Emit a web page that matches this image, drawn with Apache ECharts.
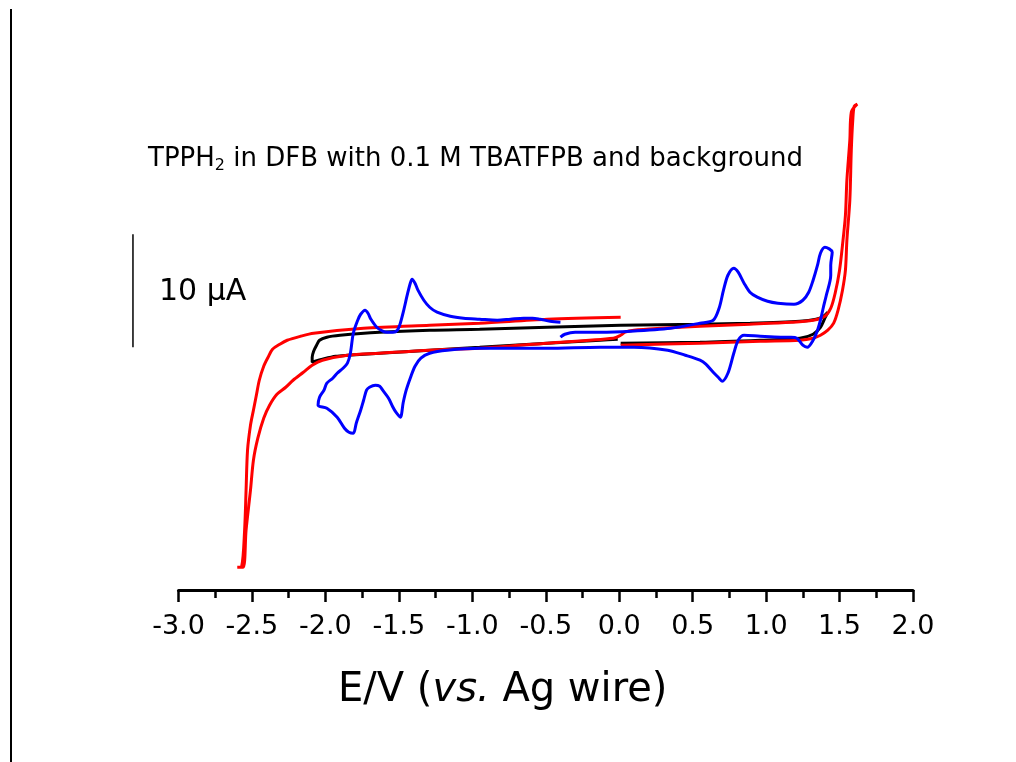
<!DOCTYPE html>
<html><head><meta charset="utf-8">
<script src="https://cdn.jsdelivr.net/npm/echarts@6/dist/echarts.min.js"></script>
<style>html,body{margin:0;padding:0;background:#fff}#c{width:1016px;height:762px}</style>
</head><body><div id="c"></div>
<script>
// ---- axis ticks ----
const xTicks = [-3.0, -2.5, -2.0, -1.5, -1.0, -0.5, 0.0, 0.5, 1.0, 1.5, 2.0];
const xTickLabels = ['-3.0', '-2.5', '-2.0', '-1.5', '-1.0', '-0.5', '0.0', '0.5', '1.0', '1.5', '2.0'];
const xAxisTitle = 'E/V ({it|vs.} Ag wire)';
const annotation = 'TPPH{s|2} in DFB with 0.1 M TBATFPB and background';
const scaleLabel = '10 \u03bcA';

// ---- background (black): E / V, I / uA ----
const blackE = [0.01, 0.55, 0.96, 1.23, 1.32, 1.37, 1.40, 1.42, 1.39, 1.34, 1.23, 0.89, 0.55, 0.01, -0.49, -0.95, -1.29, -1.63, -1.90, -1.99, -2.04, -2.06, -2.08, -2.09, -2.09, -2.07, -2.02, -1.93, -1.85, -1.63, -1.29, -0.95, -0.49, -0.13, -0.01];
const blackI = [0.04, 0.12, 0.30, 0.48, 0.83, 1.45, 2.25, 2.78, 2.42, 2.16, 1.98, 1.81, 1.72, 1.63, 1.45, 1.27, 1.19, 1.01, 0.74, 0.57, 0.30, -0.14, -0.67, -1.20, -1.65, -1.56, -1.38, -1.12, -1.03, -0.85, -0.58, -0.32, 0.04, 0.30, 0.39];

// ---- background wide window (red) ----
const redE = [0.01, 0.55, 0.96, 1.23, 1.32, 1.37, 1.42, 1.46, 1.49, 1.52, 1.54, 1.55, 1.57, 1.58, 1.59, 1.60, 1.62,
  1.58, 1.57, 1.55, 1.54, 1.52, 1.50, 1.47, 1.44, 1.40, 1.32, 1.17, 0.89, 0.55, 0.28, 0.10, 0.04, 0.01, -0.04,
  -0.49, -0.95, -1.29, -1.63, -1.85, -2.02, -2.09, -2.15, -2.22, -2.27, -2.33, -2.38, -2.42, -2.46, -2.49, -2.51, -2.54, -2.56, -2.60,
  -2.57, -2.55, -2.54, -2.53, -2.51, -2.49, -2.47, -2.45, -2.42, -2.39, -2.36, -2.31, -2.26, -2.17, -2.08, -1.74, -1.29, -0.95, -0.49, 0.01];
const redI = [-0.14, 0.04, 0.21, 0.30, 0.48, 0.74, 1.19, 1.81, 2.96, 4.73, 6.50, 9.15, 12.69, 17.12, 19.77, 21.01, 21.19,
  20.48, 18.00, 14.46, 11.36, 8.71, 6.50, 4.46, 3.13, 2.42, 2.07, 1.89, 1.72, 1.54, 1.36, 1.19, 1.01, 0.74, 0.48,
  0.04, -0.41, -0.58, -0.85, -1.03, -1.47, -1.91, -2.53, -3.24, -3.86, -4.48, -5.45, -6.60, -8.37, -10.32, -12.97, -16.51, -19.79, -19.79,
  -19.70, -16.51, -12.97, -9.43, -7.22, -5.89, -4.57, -3.24, -2.00, -1.20, -0.50, -0.05, 0.30, 0.65, 0.92, 1.36, 1.63, 1.81, 2.16, 2.34];

// ---- TPPH2 (blue) ----
const blueE = [-0.40, -0.37, -0.30, -0.13, 0.08, 0.35, 0.55, 0.64, 0.68, 0.71, 0.74, 0.78, 0.81, 0.85, 0.89, 0.94, 1.01, 1.08, 1.19, 1.25, 1.29, 1.32, 1.35, 1.37, 1.40, 1.45,
  1.44, 1.44, 1.41, 1.39, 1.37, 1.35, 1.32, 1.28, 1.25, 1.21, 1.17, 1.10, 0.96, 0.85, 0.81, 0.78, 0.74, 0.70, 0.68, 0.64, 0.59, 0.55, 0.45, 0.33, 0.10, -0.13,
  -0.49, -0.95, -1.17, -1.29, -1.35, -1.39, -1.42, -1.45, -1.47, -1.49, -1.52, -1.54, -1.57, -1.61, -1.63, -1.66, -1.70, -1.72, -1.74, -1.76, -1.79, -1.81, -1.84, -1.87, -1.92, -1.99, -2.05,
  -2.04, -2.01, -1.99, -1.95, -1.92, -1.88, -1.85, -1.83, -1.81, -1.78, -1.76, -1.73, -1.71, -1.69, -1.65, -1.61, -1.58, -1.54, -1.51, -1.49, -1.47, -1.44, -1.42, -1.41, -1.39, -1.37, -1.33, -1.29, -1.24, -1.15, -1.06, -0.95, -0.83, -0.74, -0.65, -0.59, -0.54, -0.47, -0.40];
const blueI = [0.57, 0.83, 1.01, 1.01, 1.10, 1.36, 1.81, 2.07, 3.13, 4.73, 6.05, 6.67, 6.32, 5.35, 4.55, 4.11, 3.75, 3.58, 3.49, 3.84, 4.55, 5.61, 6.94, 8.00, 8.53, 8.09,
  6.94, 6.05, 4.28, 3.22, 2.07, 1.19, 0.30, -0.32, -0.14, 0.48, 0.57, 0.57, 0.65, 0.74, 0.30, -0.85, -2.62, -3.33, -3.06, -2.53, -1.82, -1.47, -1.03, -0.58, -0.32, -0.32,
  -0.41, -0.41, -0.58, -0.85, -1.29, -2.00, -2.97, -4.12, -5.19, -6.51, -6.07, -5.63, -4.83, -4.12, -3.77, -3.68, -3.86, -4.12, -5.01, -5.89, -7.04, -7.93, -7.84, -7.49, -6.51, -5.72, -5.45,
  -4.74, -4.12, -3.50, -3.06, -2.62, -2.18, -1.73, -0.85, 0.92, 2.07, 2.60, 2.96, 2.69, 2.16, 1.45, 1.10, 1.01, 1.01, 1.19, 1.81, 2.78, 4.46, 5.43, 5.70, 5.35, 4.73, 3.84, 3.22, 2.78, 2.42, 2.25, 2.16, 2.07, 2.16, 2.25, 2.25, 2.16, 1.98, 1.89];

// ---- 10 uA scale bar (left of the axis) ----
const scaleBarE = -3.31;
const scaleBarI = [-0.32, 9.68];

const zip = (a, b) => a.map((v, i) => [v, b[i]]);
const FONT = 'DejaVu Sans';

const chart = echarts.init(document.getElementById('c'), null, { renderer: 'canvas' });
const lineSeries = (name, e, i, color, w) => ({
  name, type: 'line', data: zip(e, i), showSymbol: false, smooth: 0.3,
  lineStyle: { color, width: w }, itemStyle: { color }, animation: false, z: 2
});

chart.setOption({
  animation: false,
  backgroundColor: '#fff',
  grid: { left: 178.5, right: 103, top: 95, bottom: 172, containLabel: false, outerBoundsMode: 'none' },
  xAxis: {
    type: 'value', min: -3, max: 2, interval: 0.5,
    axisLine: { show: true, onZero: false, lineStyle: { color: '#000', width: 3 } },
    axisTick: { show: true, inside: false, length: 12, lineStyle: { color: '#000', width: 2.5 } },
    minorTick: { show: true, splitNumber: 2, length: 8, lineStyle: { color: '#000', width: 2.5 } },
    splitLine: { show: false }, minorSplitLine: { show: false },
    axisLabel: {
      color: '#000', fontFamily: FONT, fontSize: 27, margin: 23,
      formatter: (v) => { const k = xTicks.findIndex(t => Math.abs(t - v) < 1e-6); return k >= 0 ? xTickLabels[k] : ''; }
    },
    name: xAxisTitle, nameLocation: 'middle', nameGap: 81,
    nameTextStyle: {
      color: '#000', fontFamily: FONT, fontSize: 40, padding: [0, 86, 0, 0],
      rich: { it: { fontStyle: 'italic', fontFamily: FONT, fontSize: 40, color: '#000' } }
    }
  },
  yAxis: { type: 'value', min: -21.8, max: 22, show: false, splitLine: { show: false } },
  series: [
    lineSeries('background', blackE, blackI, '#000000', 3),
    lineSeries('background (wide)', redE, redI, '#ff0000', 3),
    lineSeries('TPPH2', blueE, blueI, '#0000ff', 3)
  ]
});

// scale bar placed through the chart's own scales
const pTop = chart.convertToPixel({ gridIndex: 0 }, [scaleBarE, scaleBarI[1]]);
const pBot = chart.convertToPixel({ gridIndex: 0 }, [scaleBarE, scaleBarI[0]]);

chart.setOption({
  graphic: [
    { type: 'line', shape: { x1: 11, y1: 9, x2: 11, y2: 762 }, style: { stroke: '#000', lineWidth: 2 } },
    { type: 'line', shape: { x1: pTop[0], y1: pTop[1], x2: pBot[0], y2: pBot[1] }, style: { stroke: '#000', lineWidth: 1.5 } },
    { type: 'text', x: 159, y: 292, style: { text: scaleLabel, fontFamily: FONT, fontSize: 30, fill: '#000', verticalAlign: 'middle', align: 'left' } },
    { type: 'text', x: 148, y: 159, style: {
        text: '{m|' + annotation.replace('{s|2}', '}{s|2}{m|') + '}',
        verticalAlign: 'middle', align: 'left',
        rich: {
          m: { fontFamily: FONT, fontSize: 26, lineHeight: 30, fill: '#000' },
          s: { fontFamily: FONT, fontSize: 16, lineHeight: 16, padding: [14, 0, 0, 0], fill: '#000' }
        }
    } }
  ]
});
</script></body></html>
